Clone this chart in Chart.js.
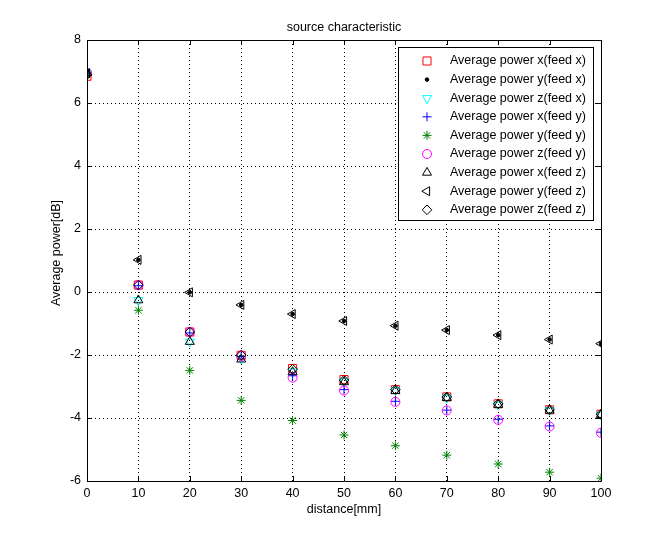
<!DOCTYPE html>
<html>
<head>
<meta charset="utf-8">
<script src="https://cdn.jsdelivr.net/npm/chart.js@4/dist/chart.umd.min.js"></script>
<style>
  html, body { margin: 0; padding: 0; background: #fff; }
  #wrap { width: 664px; height: 540px; }
</style>
</head>
<body>
<div id="wrap"><canvas id="chart" width="664" height="540"></canvas></div>
<script>
const distance = [0, 10, 20, 30, 40, 50, 60, 70, 80, 90, 100];

const xFeedX = [6.85, 0.22, -1.27, -2.01, -2.43, -2.78, -3.10, -3.33, -3.55, -3.74, -3.88];
const yFeedX = [6.95, 1.02, -0.01, -0.41, -0.70, -0.92, -1.07, -1.21, -1.37, -1.51, -1.64];
const zFeedX = [6.95, -0.26, -1.58, -2.12, -2.52, -2.84, -3.12, -3.36, -3.58, -3.76, -3.90];
const xFeedY = [6.95, 0.20, -1.30, -2.05, -2.66, -3.10, -3.47, -3.75, -4.04, -4.25, -4.45];
const yFeedY = [6.95, -0.58, -2.49, -3.44, -4.08, -4.54, -4.88, -5.18, -5.46, -5.72, -5.91];
const zFeedY = [6.95, 0.22, -1.27, -2.03, -2.72, -3.13, -3.49, -3.76, -4.06, -4.27, -4.47];
const xFeedZ = [6.95, -0.26, -1.58, -2.14, -2.54, -2.86, -3.14, -3.36, -3.58, -3.76, -3.90];
const yFeedZ = [6.95, 1.02, -0.01, -0.41, -0.70, -0.92, -1.07, -1.21, -1.37, -1.51, -1.64];
const zFeedZ = [6.90, 0.22, -1.27, -2.00, -2.45, -2.80, -3.10, -3.33, -3.55, -3.74, -3.88];

const xTicks = [0, 10, 20, 30, 40, 50, 60, 70, 80, 90, 100];
const yTicks = [-6, -4, -2, 0, 2, 4, 6, 8];

const FONT = "'Liberation Sans', Arial, sans-serif";

const SERIES = [
  { label: 'Average power x(feed x)', data: xFeedX, color: '#ff0000', style: 'rect', radius: 5.7, rotation: 0 },
  { label: 'Average power y(feed x)', data: yFeedX, color: '#000000', style: 'circle', radius: 1.8, rotation: 0, fill: true },
  { label: 'Average power z(feed x)', data: zFeedX, color: '#00ffff', style: 'triangle', radius: 5.2, rotation: 180 },
  { label: 'Average power x(feed y)', data: xFeedY, color: '#0000ff', style: 'cross', radius: 4.5, rotation: 0 },
  { label: 'Average power y(feed y)', data: yFeedY, color: '#008000', style: 'star', radius: 4.5, rotation: 0 },
  { label: 'Average power z(feed y)', data: zFeedY, color: '#ff00ff', style: 'circle', radius: 4.5, rotation: 0 },
  { label: 'Average power x(feed z)', data: xFeedZ, color: '#000000', style: 'triangle', radius: 5.2, rotation: 0 },
  { label: 'Average power y(feed z)', data: yFeedZ, color: '#000000', style: 'triangle', radius: 5.2, rotation: 270 },
  { label: 'Average power z(feed z)', data: zFeedZ, color: '#000000', style: 'rectRot', radius: 4.8, rotation: 0 },
];

// matlab-ish frame, inward ticks, title, axis labels, legend
const matlabFrame = {
  id: 'matlabFrame',
  afterDraw(chart) {
    const { ctx, chartArea: a, scales } = chart;
    ctx.save();
    ctx.strokeStyle = '#000';
    ctx.lineWidth = 1;
    ctx.beginPath();
    ctx.rect(Math.round(a.left) + 0.5, Math.round(a.top) + 0.5, Math.round(a.right - a.left), Math.round(a.bottom - a.top));
    xTicks.forEach((v) => {
      const px = Math.round(scales.x.getPixelForValue(v)) + 0.5;
      ctx.moveTo(px, a.bottom); ctx.lineTo(px, a.bottom - 5);
      ctx.moveTo(px, a.top); ctx.lineTo(px, a.top + 5);
    });
    yTicks.forEach((v) => {
      const py = Math.round(scales.y.getPixelForValue(v)) + 0.5;
      ctx.moveTo(a.left, py); ctx.lineTo(a.left + 5, py);
      ctx.moveTo(a.right, py); ctx.lineTo(a.right - 5, py);
    });
    ctx.stroke();

    ctx.fillStyle = '#000';
    ctx.font = `12.5px ${FONT}`;
    ctx.textAlign = 'center';
    ctx.textBaseline = 'middle';
    const cx = (a.left + a.right) / 2;
    ctx.fillText('source characteristic', cx, 28);
    ctx.fillText('distance[mm]', cx, 510);
    ctx.save();
    ctx.translate(57, 253);
    ctx.rotate(-Math.PI / 2);
    ctx.fillText('Average power[dB]', 0, 0);
    ctx.restore();

    // legend
    const lx = 398, ly = 47, lw = 195, lh = 173;
    ctx.fillStyle = '#fff';
    ctx.fillRect(lx, ly, lw, lh);
    ctx.strokeRect(lx + 0.5, ly + 0.5, lw, lh);
    ctx.textAlign = 'left';
    SERIES.forEach((s, i) => {
      const y = ly + 14 + i * 18.6;
      ctx.strokeStyle = s.color;
      ctx.fillStyle = s.fill ? s.color : 'rgba(0,0,0,0)';
      ctx.lineWidth = 1;
      Chart.helpers.drawPoint(ctx, { pointStyle: s.style, radius: s.radius, rotation: s.rotation, borderWidth: 1 }, 427, y);
      ctx.fillStyle = '#000';
      ctx.fillText(s.label, 450, y);
    });
    ctx.restore();
  },
};

new Chart(document.getElementById('chart'), {
  type: 'scatter',
  data: {
    datasets: SERIES.map((s, i) => ({
      label: s.label,
      data: distance.map((d, k) => ({ x: d, y: s.data[k] })),
      pointStyle: s.style,
      pointRadius: s.radius,
      pointRotation: s.rotation,
      borderColor: s.color,
      backgroundColor: s.fill ? s.color : 'rgba(0,0,0,0)',
      pointBorderWidth: 1,
      showLine: false,
      order: SERIES.length - i,
    })),
  },
  options: {
    responsive: false,
    animation: false,
    layout: { padding: { left: 0, top: 40, right: 63, bottom: 0 } },
    plugins: { legend: { display: false }, tooltip: { enabled: false }, title: { display: false } },
    scales: {
      x: {
        type: 'linear', min: 0, max: 100,
        afterBuildTicks: (s) => { s.ticks = xTicks.map((v) => ({ value: v })); },
        afterFit: (s) => { s.height = 59; },
        grid: { color: '#000', lineWidth: 1, drawTicks: false },
        border: { display: false, dash: [1, 3] },
        ticks: { color: '#000', padding: 5, maxRotation: 0, font: { family: FONT, size: 12.5 } },
      },
      y: {
        type: 'linear', min: -6, max: 8,
        afterBuildTicks: (s) => { s.ticks = yTicks.map((v) => ({ value: v })); },
        afterFit: (s) => { s.width = 87; },
        grid: { color: '#000', lineWidth: 1, drawTicks: false },
        border: { display: false, dash: [1, 3] },
        ticks: { color: '#000', padding: 6, font: { family: FONT, size: 12.5 } },
      },
    },
  },
  plugins: [matlabFrame],
});
</script>
</body>
</html>
